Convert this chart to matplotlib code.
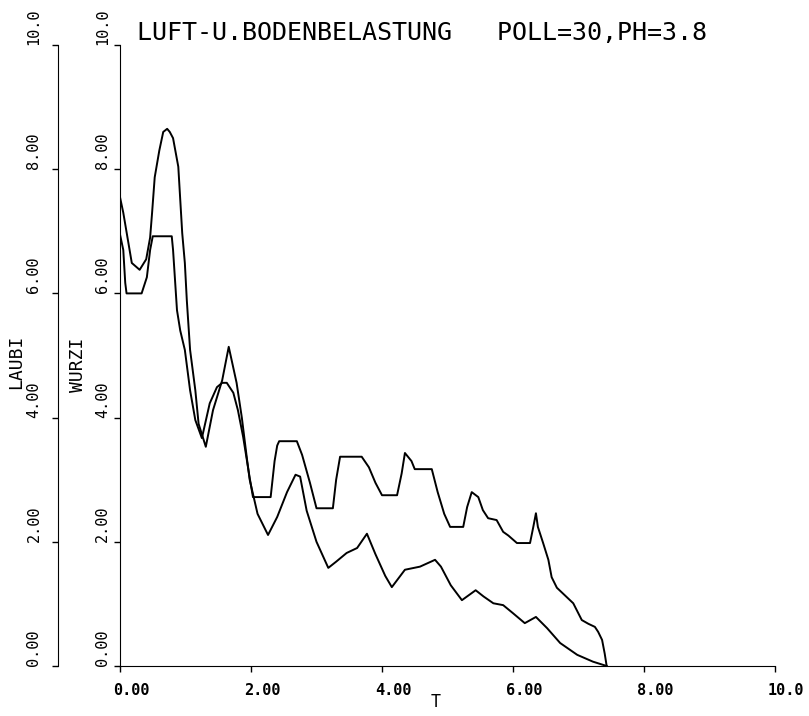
import matplotlib
matplotlib.use('Agg')
import matplotlib.pyplot as plt
from matplotlib.transforms import ScaledTranslation

plt.rcParams['font.family'] = 'DejaVu Sans Mono'

title = 'LUFT-U.BODENBELASTUNG   POLL=30,PH=3.8'

tick_vals = [0, 2, 4, 6, 8, 10]
tick_labels = ['0.00', '2.00', '4.00', '6.00', '8.00', '10.0']

# curve with the tall early peak
t_laubi = [0.0, 0.05, 0.18, 0.3, 0.4, 0.46, 0.49, 0.53, 0.6, 0.66,
           0.72, 0.76, 0.81, 0.89, 0.95, 0.99, 1.02, 1.07, 1.15, 1.2,
           1.31, 1.42, 1.56, 1.66, 1.78, 1.86, 1.94, 1.98, 2.1, 2.26,
           2.4, 2.55, 2.68, 2.75, 2.85, 3.0, 3.18, 3.3, 3.46, 3.62,
           3.77, 3.9, 4.05, 4.15, 4.35, 4.58, 4.81, 4.9, 5.05, 5.22,
           5.43, 5.55, 5.7, 5.85, 6.0, 6.18, 6.35, 6.52, 6.72, 6.98,
           7.22, 7.43]
v_laubi = [7.55, 7.3, 6.49, 6.38, 6.55, 6.9, 7.3, 7.87, 8.3, 8.6,
           8.65, 8.6, 8.5, 8.04, 6.97, 6.49, 5.89, 5.09, 4.44, 3.9,
           3.53, 4.12, 4.6, 5.14, 4.56, 4.0, 3.32, 3.0, 2.45, 2.11,
           2.4, 2.8, 3.08, 3.05, 2.5, 2.0, 1.58, 1.68, 1.82, 1.9,
           2.13, 1.8, 1.45, 1.27, 1.55, 1.6, 1.71, 1.6, 1.3, 1.06,
           1.22, 1.12, 1.01, 0.98, 0.85, 0.69, 0.79, 0.61, 0.37, 0.18,
           0.07, 0.0]

# curve with the flat plateaus
t_wurzi = [0.0, 0.05, 0.08, 0.1, 0.33, 0.41, 0.46, 0.5, 0.79, 0.81,
           0.87, 0.92, 0.99, 1.07, 1.15, 1.25, 1.37, 1.48, 1.56, 1.63,
           1.73, 1.8, 1.88, 1.98, 2.03, 2.3, 2.36, 2.4, 2.43, 2.7,
           2.78, 2.9, 3.0, 3.25, 3.3, 3.36, 3.69, 3.8, 3.9, 4.0,
           4.23, 4.3, 4.35, 4.45, 4.5, 4.76, 4.85, 4.95, 5.04, 5.24,
           5.3, 5.37, 5.47, 5.54, 5.62, 5.75, 5.85, 5.93, 6.06, 6.26,
           6.31, 6.35, 6.38, 6.46, 6.54, 6.59, 6.67, 6.79, 6.92, 7.05,
           7.15, 7.25, 7.3, 7.36, 7.4, 7.43]
v_wurzi = [6.95, 6.7, 6.17, 6.0, 6.0, 6.26, 6.7, 6.92, 6.92, 6.7,
           5.73, 5.4, 5.09, 4.44, 3.96, 3.67, 4.23, 4.49, 4.56, 4.56,
           4.4, 4.12, 3.69, 3.03, 2.72, 2.72, 3.3, 3.55, 3.62, 3.62,
           3.4, 2.95, 2.54, 2.54, 3.0, 3.37, 3.37, 3.2, 2.95, 2.75,
           2.75, 3.1, 3.43, 3.3, 3.17, 3.17, 2.8, 2.45, 2.24, 2.24,
           2.56, 2.8, 2.72, 2.51, 2.38, 2.35, 2.16, 2.1, 1.98, 1.98,
           2.24, 2.46, 2.24, 1.98, 1.71, 1.43, 1.26, 1.14, 1.01, 0.74,
           0.68, 0.63, 0.55, 0.42, 0.2, 0.0]

fig = plt.figure(figsize=(8.09, 7.16), dpi=100)
ax = fig.add_axes([120 / 809, 50 / 716, 655 / 809, 621 / 716])
ax2 = ax.twinx()

for a in (ax, ax2):
    a.set_ylim(0, 10)
    a.set_xlim(0, 10)
    a.spines['top'].set_visible(False)
    a.spines['right'].set_visible(False)
    a.patch.set_visible(False)

ax2.spines['bottom'].set_visible(False)
ax2.spines['left'].set_visible(True)
ax2.spines['left'].set_position(('outward', 44.6))
ax2.yaxis.set_ticks_position('left')
ax2.yaxis.set_label_position('left')

ax.plot(t_wurzi, v_wurzi, color='black', lw=1.4)
ax2.plot(t_laubi, v_laubi, color='black', lw=1.4)

ax.set_xticks(tick_vals, tick_labels, fontsize=11, fontweight='bold')
ax.tick_params(axis='x', direction='out', length=4, width=1, pad=8)
offset = ScaledTranslation(11 / 100, 0, fig.dpi_scale_trans)
for lab in ax.get_xticklabels():
    lab.set_transform(lab.get_transform() + offset)

ax.set_yticks(tick_vals, tick_labels, fontsize=11, rotation=90,
              va='bottom', ha='right')
ax.tick_params(axis='y', direction='out', length=4, width=1, pad=3)
ax2.set_yticks(tick_vals, tick_labels, fontsize=11, rotation=90,
               va='bottom', ha='right')
ax2.tick_params(axis='y', direction='out', length=4, width=1, pad=8)

ax.set_xlabel('T', fontsize=12, va='center')
ax.xaxis.set_label_coords(316 / 655, -36 / 621)

ax.set_ylabel('WURZI', fontsize=13, va='center')
ax.yaxis.set_label_coords(-42 / 655, 301 / 621)
ax2.set_ylabel('LAUBI', fontsize=13, va='center')
ax2.yaxis.set_label_coords(-104 / 655, 304 / 621)

fig.text(137 / 809, 1 - 33 / 716, title, fontsize=18, ha='left', va='center')

fig.savefig('out.png', dpi=100)
